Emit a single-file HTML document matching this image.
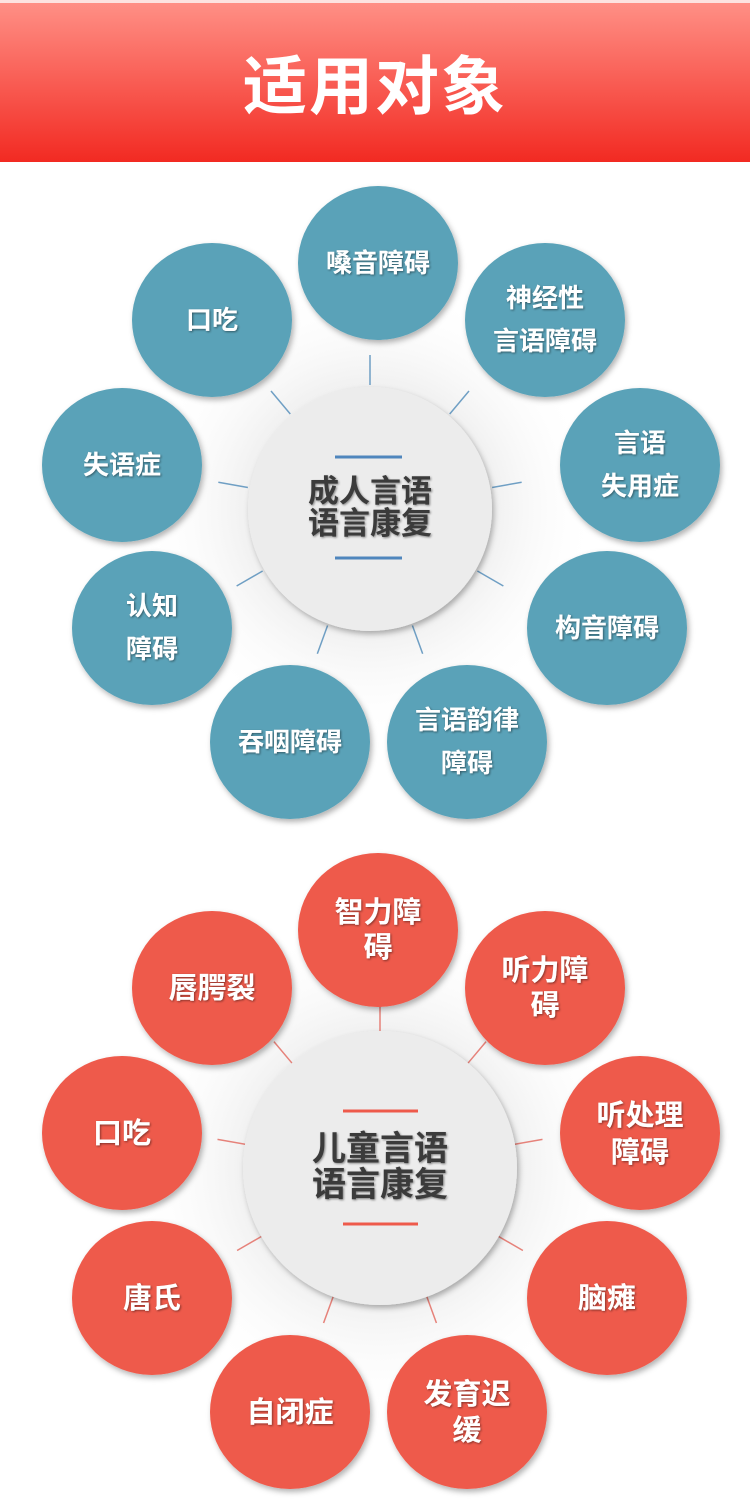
<!DOCTYPE html>
<html><head><meta charset="utf-8"><style>
html,body{margin:0;padding:0;background:#fff;width:750px;height:1500px;overflow:hidden}
svg{display:block}
text{font-family:"Liberation Sans","Noto Sans CJK SC",sans-serif;font-weight:bold}
</style></head><body>
<svg width="750" height="1500" viewBox="0 0 750 1500" xmlns="http://www.w3.org/2000/svg">
<defs>
<linearGradient id="hg" x1="0" y1="0" x2="0" y2="1">
<stop offset="0" stop-color="#ff8f85"/><stop offset="1" stop-color="#f22a22"/>
</linearGradient>
<radialGradient id="halo">
<stop offset="0.55" stop-color="#d8d8d8"/><stop offset="1" stop-color="#ffffff" stop-opacity="0"/>
</radialGradient>
<filter id="sh" x="-20%" y="-20%" width="140%" height="140%">
<feDropShadow dx="2" dy="3" stdDeviation="3" flood-color="#000" flood-opacity="0.3"/>
</filter>
<filter id="ts"><feDropShadow dx="1" dy="1" stdDeviation="1" flood-color="#000" flood-opacity="0.45"/></filter>
</defs>
<rect x="0" y="0" width="750" height="3" fill="#fde3e0"/>
<rect x="0" y="3" width="750" height="159" fill="url(#hg)"/>
<text x="375" y="109" font-size="64" fill="#fff" text-anchor="middle" letter-spacing="2">适用对象</text>

<!-- Top diagram -->
<circle cx="370" cy="509" r="230" fill="url(#halo)" opacity="0.35"/>
<g stroke="#6f9fc4" stroke-width="1.5">
<g id="sp1">
<line x1="370" y1="385" x2="370" y2="355"/>
</g>
<use href="#sp1" transform="rotate(40 370 509)"/>
<use href="#sp1" transform="rotate(80 370 509)"/>
<use href="#sp1" transform="rotate(120 370 509)"/>
<use href="#sp1" transform="rotate(160 370 509)"/>
<use href="#sp1" transform="rotate(200 370 509)"/>
<use href="#sp1" transform="rotate(240 370 509)"/>
<use href="#sp1" transform="rotate(280 370 509)"/>
<use href="#sp1" transform="rotate(320 370 509)"/>
</g>
<g fill="#5aa2b8" filter="url(#sh)">
<ellipse cx="378" cy="263" rx="80" ry="77"/>
<ellipse cx="545" cy="320" rx="80" ry="77"/>
<ellipse cx="640" cy="465" rx="80" ry="77"/>
<ellipse cx="607" cy="628" rx="80" ry="77"/>
<ellipse cx="467" cy="742" rx="80" ry="77"/>
<ellipse cx="290" cy="742" rx="80" ry="77"/>
<ellipse cx="152" cy="628" rx="80" ry="77"/>
<ellipse cx="122" cy="465" rx="80" ry="77"/>
<ellipse cx="212" cy="320" rx="80" ry="77"/>
</g>
<circle cx="370" cy="509" r="122" fill="#ececec" filter="url(#sh)"/>
<g stroke="#4f86bd" stroke-width="3">
<line x1="335" y1="457" x2="402" y2="457"/><line x1="335" y1="558" x2="402" y2="558"/>
</g>
<g fill="#3a3a3a" font-size="31" text-anchor="middle" filter="url(#ts)">
<text x="370" y="502">成人言语</text><text x="370" y="534">语言康复</text>
</g>
<g fill="#fff" font-size="26" text-anchor="middle" filter="url(#ts)">
<text x="378" y="272">嗓音障碍</text>
<text x="545" y="307">神经性</text><text x="545" y="350">言语障碍</text>
<text x="640" y="452">言语</text><text x="640" y="495">失用症</text>
<text x="607" y="637">构音障碍</text>
<text x="467" y="729">言语韵律</text><text x="467" y="772">障碍</text>
<text x="290" y="751">吞咽障碍</text>
<text x="152" y="615">认知</text><text x="152" y="658">障碍</text>
<text x="122" y="474">失语症</text>
<text x="212" y="329">口吃</text>
</g>

<!-- Bottom diagram -->
<circle cx="380" cy="1168" r="250" fill="url(#halo)" opacity="0.35"/>
<g stroke="#e6827a" stroke-width="1.5">
<g id="sp2">
<line x1="380" y1="1031" x2="380" y2="1003"/>
</g>
<use href="#sp2" transform="rotate(40 380 1168)"/>
<use href="#sp2" transform="rotate(80 380 1168)"/>
<use href="#sp2" transform="rotate(120 380 1168)"/>
<use href="#sp2" transform="rotate(160 380 1168)"/>
<use href="#sp2" transform="rotate(200 380 1168)"/>
<use href="#sp2" transform="rotate(240 380 1168)"/>
<use href="#sp2" transform="rotate(280 380 1168)"/>
<use href="#sp2" transform="rotate(320 380 1168)"/>
</g>
<g fill="#ee5a4b" filter="url(#sh)">
<ellipse cx="378" cy="930" rx="80" ry="77"/>
<ellipse cx="545" cy="988" rx="80" ry="77"/>
<ellipse cx="640" cy="1133" rx="80" ry="77"/>
<ellipse cx="607" cy="1298" rx="80" ry="77"/>
<ellipse cx="467" cy="1412" rx="80" ry="77"/>
<ellipse cx="290" cy="1412" rx="80" ry="77"/>
<ellipse cx="152" cy="1298" rx="80" ry="77"/>
<ellipse cx="122" cy="1133" rx="80" ry="77"/>
<ellipse cx="212" cy="988" rx="80" ry="77"/>
</g>
<circle cx="380" cy="1168" r="137" fill="#ececec" filter="url(#sh)"/>
<g stroke="#ee5a4b" stroke-width="3">
<line x1="343" y1="1111" x2="418" y2="1111"/><line x1="343" y1="1224" x2="418" y2="1224"/>
</g>
<g fill="#3a3a3a" font-size="34" text-anchor="middle" filter="url(#ts)">
<text x="380" y="1160">儿童言语</text><text x="380" y="1196">语言康复</text>
</g>
<g fill="#fff" font-size="29" text-anchor="middle" filter="url(#ts)">
<text x="378" y="922">智力障</text><text x="378" y="957">碍</text>
<text x="545" y="980">听力障</text><text x="545" y="1015">碍</text>
<text x="640" y="1125">听处理</text><text x="640" y="1162">障碍</text>
<text x="607" y="1308">脑瘫</text>
<text x="467" y="1404">发育迟</text><text x="467" y="1440">缓</text>
<text x="290" y="1422">自闭症</text>
<text x="152" y="1308">唐氏</text>
<text x="122" y="1143">口吃</text>
<text x="212" y="998">唇腭裂</text>
</g>
</svg>
</body></html>
